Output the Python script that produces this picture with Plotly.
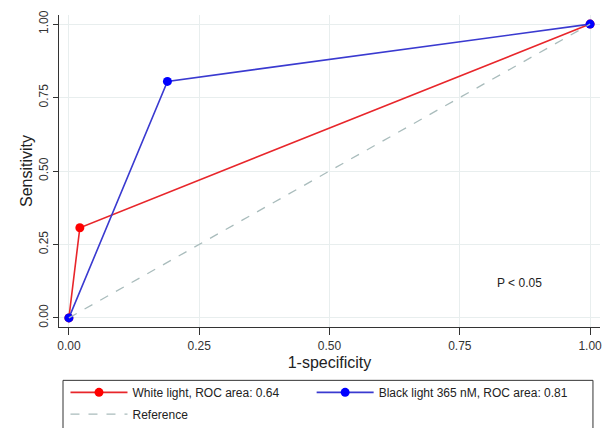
import plotly.graph_objects as go

white_x = [0.0, 0.021, 1.0]
white_y = [0.0, 0.307, 1.0]
black_x = [0.0, 0.189, 1.0]
black_y = [0.0, 0.805, 1.0]
ref_x = [0.0, 1.0]
ref_y = [0.0, 1.0]
ticks = [0, 0.25, 0.5, 0.75, 1.0]
tick_labels = ["0.00", "0.25", "0.50", "0.75", "1.00"]

FONT = "Liberation Sans, Arial, sans-serif"

fig = go.Figure()
fig.add_trace(go.Scatter(x=white_x, y=white_y, mode="lines+markers",
                         name="White light, ROC area: 0.64", legend="legend",
                         line=dict(color="#e8262b", width=1.6),
                         marker=dict(color="#ff0000", size=9)))
fig.add_trace(go.Scatter(x=black_x, y=black_y, mode="lines+markers",
                         name="Black light 365 nM, ROC area: 0.81", legend="legend2",
                         line=dict(color="#3a3ad0", width=1.6),
                         marker=dict(color="#0000ff", size=9)))
fig.add_trace(go.Scatter(x=ref_x, y=ref_y, mode="lines", name="Reference",
                         legend="legend3",
                         line=dict(color="#a9bcbc", width=1.3, dash="dash")))

fig.add_annotation(x=0.864, y=0.12, text="P < 0.05", showarrow=False,
                   font=dict(size=12, color="#222", family=FONT))

# legend frame
fig.add_shape(type="rect", xref="paper", yref="paper",
              x0=0.0074, x1=0.987, y0=-0.329, y1=-0.171,
              line=dict(color="#333", width=1), fillcolor="rgba(0,0,0,0)")

axis_common = dict(tickvals=ticks, ticktext=tick_labels, showgrid=True,
                   gridcolor="#e8eeee", gridwidth=1, zeroline=False,
                   showline=True, linecolor="#333", linewidth=1.2,
                   ticks="outside", tickcolor="#333",
                   automargin=False,
                   tickfont=dict(size=12, color="#333", family=FONT))

leg_common = dict(orientation="h", xanchor="left", yanchor="top",
                  bgcolor="rgba(0,0,0,0)", borderwidth=0,
                  font=dict(size=12, color="#222", family=FONT),
                  itemwidth=57)

fig.update_layout(
    width=613, height=441,
    margin=dict(l=59, r=13, t=15, b=107),
    paper_bgcolor="white", plot_bgcolor="white",
    font=dict(family=FONT, color="#222"),
    xaxis=dict(range=[-0.019, 1.019], ticklen=7,
               title=dict(text="1-specificity", font=dict(size=16), standoff=5),
               **axis_common),
    yaxis=dict(range=[-0.031, 1.031], tickangle=-90, ticklen=5,
               title=dict(text="Sensitivity", font=dict(size=16), standoff=0),
               **axis_common),
    legend=dict(x=0.012, y=-0.163, **leg_common),
    legend2=dict(x=0.467, y=-0.163, **leg_common),
    legend3=dict(x=0.012, y=-0.233, **leg_common),
    showlegend=True,
)

fig.write_html("out.html", config={"displayModeBar": False},
               post_script="document.body.style.margin='0';document.body.style.overflow='hidden';")
